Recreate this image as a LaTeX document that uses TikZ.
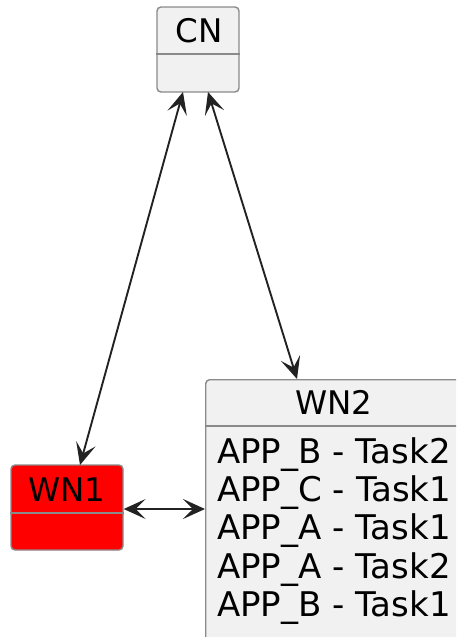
\documentclass[tikz,border=0pt]{standalone}
\usepackage{fontspec}
\setmainfont{DejaVu Sans}
\usetikzlibrary{arrows.meta,calc}
\definecolor{boxfill}{HTML}{F1F1F1}
\definecolor{boxline}{HTML}{8A8A8A}
\definecolor{arrowc}{HTML}{222222}
\tikzset{
  box/.style={draw=boxline, fill=boxfill, line width=1.4pt, rounded corners=4pt, inner sep=0pt},
  divider/.style={draw=boxline, line width=1.4pt},
  lbl/.style={font=\fontsize{32.5}{36}\selectfont, text=black, inner sep=0pt},
  member/.style={font=\fontsize{34}{38}\selectfont, text=black, inner sep=0pt, anchor=west},
  conn/.style={draw=arrowc, line width=1.9pt, {Stealth[length=22pt,width=20pt,inset=10pt]}-{Stealth[length=22pt,width=20pt,inset=10pt]}}
}
\begin{document}
\begin{tikzpicture}[x=1pt,y=-1pt]
\useasboundingbox (0,0) rectangle (456,637);
\clip (0,0) rectangle (456,637);
% CN
\node[box, minimum width=82pt, minimum height=85pt] (CN) at (198,49.5) {};
\draw[divider] (CN.west |- 0,54) -- (CN.east |- 0,54);
\node[lbl] (cnt) at (199,31) {CN};
% WN1
\node[box, fill=red, minimum width=112pt, minimum height=85pt] (WN1) at (67,507.5) {};
\draw[divider] (WN1.west |- 0,513) -- (WN1.east |- 0,513);
\node[lbl] (wn1t) at (67,490) {WN1};
% WN2
\node[box, minimum width=270pt, minimum height=280pt, anchor=north west] (WN2) at (205,379) {};
\draw[divider] (WN2.west |- 0,426) -- (WN2.east |- 0,426);
\node[lbl] (wn2t) at (334,402) {WN2};
\node[member] (l1) at (217,455) {APP\_B - Task2};
\node[member] (l2) at (217,493) {APP\_C - Task1};
\node[member] (l3) at (217,531) {APP\_A - Task1};
\node[member] (l4) at (217,570) {APP\_A - Task2};
\node[member] (l5) at (217,608) {APP\_B - Task1};
% connectors
\coordinate (cnA) at (183,92);
\coordinate (cnB) at (208,92);
\coordinate (wn1top) at (80,465);
\coordinate (wn2top) at (297,379);
\draw[conn] (cnA) -- (wn1top);
\draw[conn] (cnB) -- (wn2top);
\draw[conn] (WN1.east |- 0,509) -- (WN2.west |- 0,509);
\end{tikzpicture}
\end{document}
